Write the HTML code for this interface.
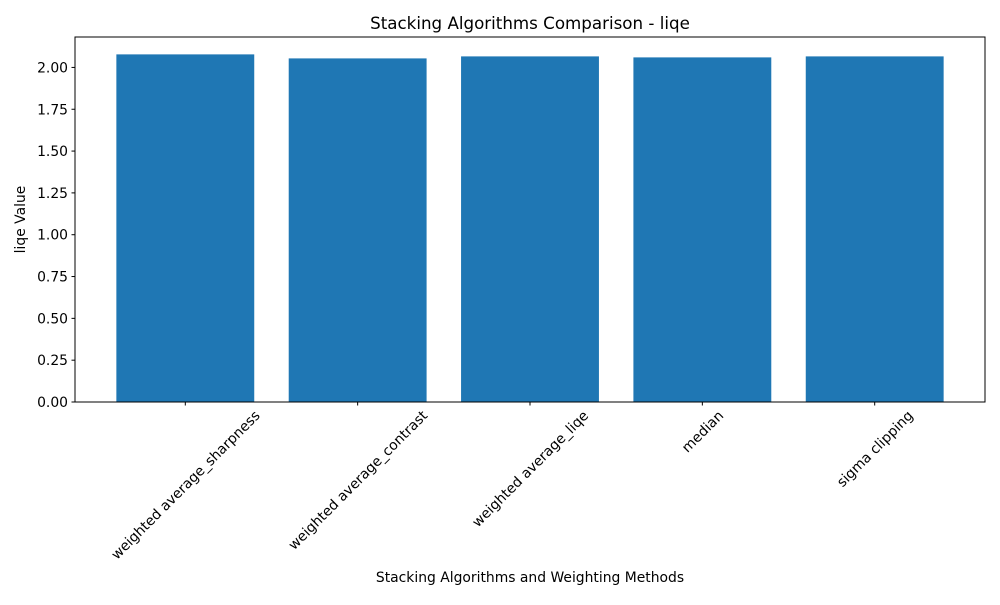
<!DOCTYPE html>
<html><head><meta charset="utf-8"><style>body{margin:0;background:#fff}svg{font-family:"DejaVu Sans","Liberation Sans",sans-serif}</style></head>
<body>
<svg id="chart" width="1000" height="600" viewBox="0 0 1000 600" xmlns="http://www.w3.org/2000/svg">
<rect width="1000" height="600" fill="#fff"/>
<text x="530" y="29" text-anchor="middle" font-size="16.7">Stacking Algorithms Comparison - liqe</text>
<text x="530" y="582" text-anchor="middle" font-size="13.9">Stacking Algorithms and Weighting Methods</text>
<text transform="translate(25,219.5) rotate(-90)" text-anchor="middle" font-size="13.9">liqe Value</text>
<g id="bars"></g><g id="yticks"></g><g id="xticks"></g>
<rect x="75" y="37" width="910" height="365" fill="none" stroke="#000" stroke-width="1"/>
</svg>
<script>
const categories = ["weighted average_sharpness","weighted average_contrast","weighted average_liqe","median","sigma clipping"];
const values = [2.078, 2.054, 2.066, 2.060, 2.066];
const yTickValues = [0,0.25,0.5,0.75,1.0,1.25,1.5,1.75,2.0];
const yTickLabels = ["0.00","0.25","0.50","0.75","1.00","1.25","1.50","1.75","2.00"];
const L=75,R=985,T=37,B=402,NS="http://www.w3.org/2000/svg";
const xmin=-0.64, xmax=categories.length-1+0.64;
const ymax=Math.max(...values)*1.05;
const x=v=>L+(v-xmin)/(xmax-xmin)*(R-L);
const y=v=>B-v/ymax*(B-T);
const bw=(x(0.8)-x(0));
const FS=13.9;
const bars=document.getElementById('bars'),yt=document.getElementById('yticks'),xt=document.getElementById('xticks');
function mk(t,a){const e=document.createElementNS(NS,t);for(const k in a)e.setAttribute(k,a[k]);return e;}
values.forEach((v,i)=>{const r=mk('rect',{x:x(i)-bw/2,y:y(v),width:bw,height:B-y(v),fill:'#1f77b4'});


bars.appendChild(r);});
yTickValues.forEach((v,i)=>{const l=mk('line',{x1:L-3.5,x2:L,y1:y(v),y2:y(v),stroke:'#000'});


yt.appendChild(l);
const t=mk('text',{x:L-7,y:y(v)+5,'text-anchor':'end','font-size':FS});t.textContent=yTickLabels[i];


yt.appendChild(t);});
categories.forEach((c,i)=>{const cx=x(i);const l=mk('line',{x1:cx,x2:cx,y1:B,y2:B+3.5,stroke:'#000'});


xt.appendChild(l);
const t=mk('text',{'text-anchor':'middle','font-size':FS});t.textContent=c;


xt.appendChild(t);
const len=t.getComputedTextLength();const h=FS;
const half=(len*0.7071+h*0.7071)/2;const cy=B+6+half;
t.setAttribute('transform','translate('+cx+','+cy+') rotate(-45)');t.setAttribute('y',5);});
</script>
</body></html>
